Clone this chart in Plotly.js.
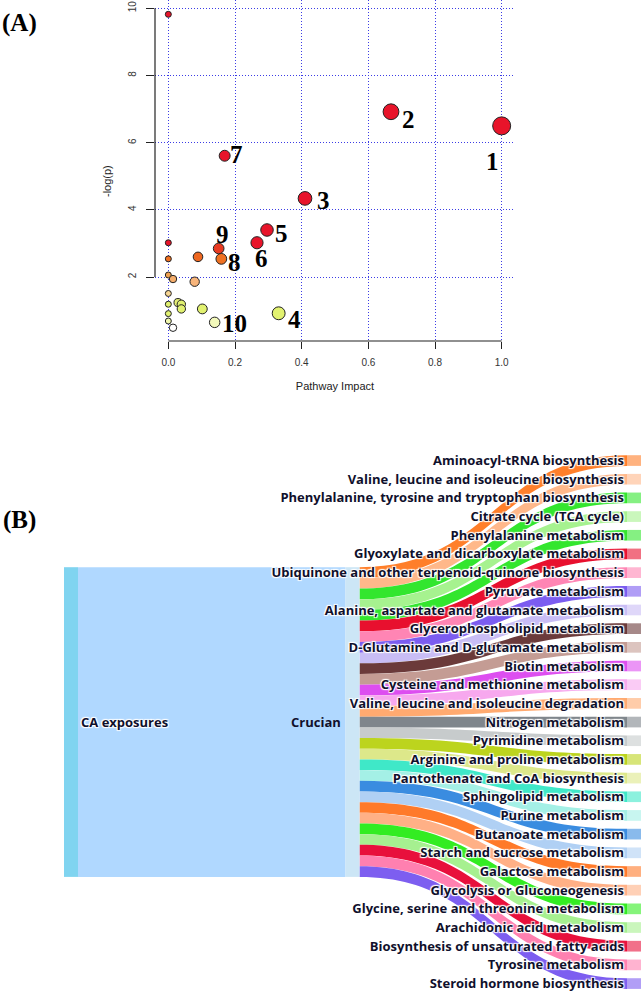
<!DOCTYPE html>
<html><head><meta charset="utf-8">
<script src="https://cdn.plot.ly/plotly-3.0.1.min.js"></script>
<style>html,body{margin:0;padding:0;background:#fff}#chart{width:641px;height:992px}</style>
</head><body><div id="chart"></div>
<script>
// ---------- (A) pathway impact scatter data ----------
const impact = [0.000, 1.000, 0.668, 0.410, 0.331, 0.296, 0.266, 0.169, 0.159, 0.151, 0.139,
                0.089, 0.000, 0.000, 0.000, 0.014, 0.079, 0.000, 0.000, 0.029, 0.039, 0.039,
                0.102, 0.000, 0.000, 0.014];
const logp   = [9.82, 6.50, 6.92, 4.34, 0.92, 3.40, 3.02, 5.61, 2.54, 2.85, 0.65,
                2.60, 3.02, 2.54, 2.06, 1.94, 1.86, 1.51, 1.19, 1.24, 1.19, 1.05,
                1.05, 0.91, 0.69, 0.49];
const numLabels = ['1', '2', '3', '4', '5', '6', '7', '8', '9', '10'];
const numLabelX = [0.972, 0.719, 0.464, 0.377, 0.338, 0.278, 0.204, 0.198, 0.162, 0.198];
const numLabelY = [5.43, 6.70, 4.29, 0.75, 3.31, 2.54, 5.66, 2.42, 3.28, 0.63];
const xTicks = [0, 0.2, 0.4, 0.6, 0.8, 1.0];
const xTickText = ['0.0', '0.2', '0.4', '0.6', '0.8', '1.0'];
const yTicks = [2, 4, 6, 8, 10];

// ---------- (B) sankey data ----------
const sourceNodes = ['CA exposures', 'Crucian'];
const pathways = [
  'Aminoacyl-tRNA biosynthesis',
  'Valine, leucine and isoleucine biosynthesis',
  'Phenylalanine, tyrosine and tryptophan biosynthesis',
  'Citrate cycle (TCA cycle)',
  'Phenylalanine metabolism',
  'Glyoxylate and dicarboxylate metabolism',
  'Ubiquinone and other terpenoid-quinone biosynthesis',
  'Pyruvate metabolism',
  'Alanine, aspartate and glutamate metabolism',
  'Glycerophospholipid metabolism',
  'D-Glutamine and D-glutamate metabolism',
  'Biotin metabolism',
  'Cysteine and methionine metabolism',
  'Valine, leucine and isoleucine degradation',
  'Nitrogen metabolism',
  'Pyrimidine metabolism',
  'Arginine and proline metabolism',
  'Pantothenate and CoA biosynthesis',
  'Sphingolipid metabolism',
  'Purine metabolism',
  'Butanoate metabolism',
  'Starch and sucrose metabolism',
  'Galactose metabolism',
  'Glycolysis or Gluconeogenesis',
  'Glycine, serine and threonine metabolism',
  'Arachidonic acid metabolism',
  'Biosynthesis of unsaturated fatty acids',
  'Tyrosine metabolism',
  'Steroid hormone biosynthesis'
];
const pathwayValues = [1,1,1,1,1,1,1,1,1,1,1,1,1,1,1,1,1,1,1,1,1,1,1,1,1,1,1,1,1];

// ---------- styles ----------
const W = 641, H = 992;
const px = v => v / W, py = v => 1 - v / H;

const linkColors = ['#ff7f2a','#ffb88a','#33e62e','#a6f28f','#33e62e','#e8102e','#ff85b4','#7b5cf0',
  '#c9bdf5','#6b3a3a','#c49c94','#dd4ef0','#f7a8ee','#ffaa70','#7f868c','#c7cbcc','#bcd41e',
  '#dde88a','#3fe8c8','#a4f0e6','#3a8ce0','#b0d0f4','#ff7a2a','#ffb086','#33ec22','#a6f090',
  '#e8103c','#ff80b0','#7d5ef0'];
function tint(hex, f) {
  const n = parseInt(hex.slice(1), 16);
  const r = (n >> 16) & 255, g = (n >> 8) & 255, b = n & 255;
  const m = c => Math.round(c + (255 - c) * f);
  return 'rgb(' + m(r) + ',' + m(g) + ',' + m(b) + ')';
}
const nodeColors = ['#80d4f0', '#cce6f6'].concat(linkColors.map(c => tint(c, 0.4)));

const heat = [[0,'#ffffff'],[0.07,'#f2f8b4'],[0.17,'#e2f270'],[0.28,'#e0f070'],[0.41,'#f8d494'],
  [0.55,'#f8b47a'],[0.63,'#f0a050'],[0.82,'#f07020'],[0.93,'#e84020'],[1,'#e8142a']];

const scatter = {
  type: 'scatter', mode: 'markers', x: impact, y: logp,
  xaxis: 'x', yaxis: 'y', hoverinfo: 'none', cliponaxis: false,
  marker: {
    color: logp, cmin: 0.49, cmax: 3.0, colorscale: heat, showscale: false,
    size: impact.map(v => 6 + 12 * Math.sqrt(v)),
    line: {color: '#222', width: 1}, opacity: 1
  }
};

const sankeyFont = {family: 'Open Sans', size: 13, color: '#10102c', weight: 'bold'};
// the middle node's label is drawn on its left side (as in the reference) via an annotation
const nodeLabels = [sourceNodes[0], ''].concat(pathways);
const sankey = {
  type: 'sankey', arrangement: 'fixed', hoverinfo: 'none',
  domain: {x: [px(64), 1], y: [py(988.9), py(455.2)]},
  textfont: sankeyFont,
  node: {
    label: nodeLabels, color: nodeColors,
    thickness: 14, pad: 8, line: {width: 0}, hoverinfo: 'none'
  },
  link: {
    source: [0].concat(pathways.map(() => 1)),
    target: [1].concat(pathways.map((_, i) => i + 2)),
    value: [pathwayValues.reduce((a, b) => a + b, 0)].concat(pathwayValues),
    color: ['#b0d8ff'].concat(linkColors), line: {width: 0}, hoverinfo: 'none'
  }
};

const tickFont = {family: 'Liberation Sans, Arial', size: 10, color: '#333'};
const gridDash = '1px,2px';
const layout = {
  width: W, height: H, margin: {l: 0, r: 0, t: 0, b: 0},
  paper_bgcolor: '#fff', plot_bgcolor: 'rgba(0,0,0,0)', showlegend: false,
  xaxis: {
    domain: [px(155), px(515)], range: [-0.04, 1.04], anchor: 'y',
    tickvals: xTicks, ticktext: xTickText, ticks: 'outside', ticklen: 7, tickcolor: '#222',
    tickfont: tickFont, ticklabelstandoff: 5,
    showgrid: true, gridcolor: '#3c3ce6', griddash: gridDash, gridwidth: 1,
    zeroline: false, showline: false,
    title: {text: 'Pathway Impact', font: {family: 'Liberation Sans, Arial', size: 11, color: '#222'}, standoff: 15}
  },
  yaxis: {
    domain: [py(341), 1], range: [0.095, 10.247], anchor: 'x',
    tickvals: yTicks, ticks: 'outside', ticklen: 8, tickcolor: '#222', tickangle: -90,
    tickfont: tickFont, ticklabelstandoff: 6,
    showgrid: true, gridcolor: '#3c3ce6', griddash: gridDash, gridwidth: 1,
    zeroline: false, showline: false
  },
  shapes: [
    {type: 'line', xref: 'x domain', yref: 'y', x0: 0, x1: 0, y0: 2, y1: 10, line: {color: '#222', width: 1.2}},
    {type: 'line', xref: 'x', yref: 'y domain', x0: 0, x1: 1, y0: 0, y1: 0, line: {color: '#222', width: 1.2}}
  ],
  annotations: numLabels.map((t, i) => ({
    text: t, x: numLabelX[i], y: numLabelY[i], xref: 'x', yref: 'y', showarrow: false,
    xanchor: 'center', yanchor: 'middle',
    font: {family: 'Liberation Serif, Times New Roman', size: 25, color: '#000', weight: 'bold'}
  })).concat([
    {text: '-log(p)', xref: 'paper', yref: 'paper', x: px(107), y: py(181), textangle: -90,
     showarrow: false, xanchor: 'center', yanchor: 'middle',
     font: {family: 'Liberation Sans, Arial', size: 11, color: '#222'}},
    {text: '(A)', xref: 'paper', yref: 'paper', x: px(19), y: py(23), showarrow: false,
     xanchor: 'center', yanchor: 'middle',
     font: {family: 'Liberation Serif, Times New Roman', size: 25, color: '#000', weight: 'bold'}},
    {text: '(B)', xref: 'paper', yref: 'paper', x: px(19), y: py(520), showarrow: false,
     xanchor: 'center', yanchor: 'middle',
     font: {family: 'Liberation Serif, Times New Roman', size: 25, color: '#000', weight: 'bold'}},
    {text: sourceNodes[1], xref: 'paper', yref: 'paper', x: px(343), y: py(722), showarrow: false,
     xanchor: 'right', yanchor: 'middle', font: sankeyFont}
  ])
};

Plotly.newPlot('chart', [sankey, scatter], layout, {displayModeBar: false, staticPlot: true});
</script></body></html>
